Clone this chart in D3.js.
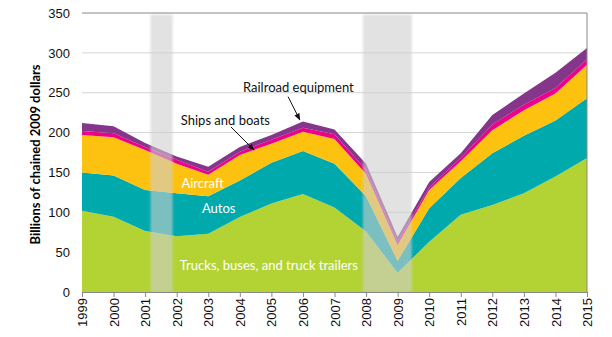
<!DOCTYPE html>
<html>
<head>
<meta charset="utf-8">
<script src="https://cdn.jsdelivr.net/npm/d3@7"></script>
<style>
  body { margin: 0; background: #fff; }
  svg { font-family: Lato, "Open Sans", sans-serif; }
  .grid line { stroke: #d4d4d4; }
  .axis path, .axis line { stroke: #888; }
  .axis text { fill: #111; font-size: 13px; }
</style>
</head>
<body>
<script>
var years = [1999, 2000, 2001, 2002, 2003, 2004, 2005, 2006, 2007, 2008, 2009, 2010, 2011, 2012, 2013, 2014, 2015];
var trucks   = [102, 94.5, 76.5, 70, 73, 94, 111, 123, 106, 76, 24, 63, 97, 109, 124, 145, 168];
var autos    = [48, 51.5, 51.5, 54, 47, 46, 51, 54, 55, 44, 15, 42, 46, 65, 72, 70, 75];
var aircraft = [47, 48, 50, 37, 27, 32, 24, 24, 31, 28, 20, 23, 21, 29, 32, 34, 42];
var ships    = [5, 5, 4, 5, 4, 4, 5, 5, 6, 5, 4, 3, 4, 7, 7, 7, 7];
var railroad = [10, 9, 5, 4, 6, 6, 6, 8, 6, 8, 6, 7, 6, 12, 14, 19, 14];
var yTicks = [0, 50, 100, 150, 200, 250, 300, 350];
var recessions = [[2001.17, 2001.87], [2007.9, 2009.45]];

var keys = ["trucks", "autos", "aircraft", "ships", "railroad"];
var colors = {trucks: "#b3d335", autos: "#00a9ac", aircraft: "#fdc20f", ships: "#ec008c", railroad: "#85358a"};

var margin = {top: 13, right: 25, bottom: 45, left: 82};
var width = 612 - margin.left - margin.right,
    height = 337 - margin.top - margin.bottom;

var table = years.map(function(y, i) {
  return {year: y, trucks: trucks[i], autos: autos[i], aircraft: aircraft[i], ships: ships[i], railroad: railroad[i]};
});

var x = d3.scaleLinear().domain([1999, 2015]).range([0, width]);
var y = d3.scaleLinear().domain([0, 350]).range([height, 0]);

var svg = d3.select("body").append("svg")
    .attr("width", 612)
    .attr("height", 337);

var defs = svg.append("defs");
defs.append("filter").attr("id", "soft")
    .attr("x", "-20%").attr("width", "140%")
  .append("feGaussianBlur").attr("stdDeviation", 1.2);

var g = svg.append("g")
    .attr("transform", "translate(" + margin.left + "," + margin.top + ")");

// gridlines
g.append("g").attr("class", "grid")
  .selectAll("line")
  .data(yTicks.filter(function(d) { return d > 0 && d < 350; }))
  .enter().append("line")
    .attr("x1", 0).attr("x2", width)
    .attr("y1", function(d) { return y(d); })
    .attr("y2", function(d) { return y(d); });

var stack = d3.stack().keys(keys);
var series = stack(table);

var area = d3.area()
    .x(function(d) { return x(d.data.year); })
    .y0(function(d) { return y(d[0]); })
    .y1(function(d) { return y(d[1]); });

g.selectAll(".layer")
  .data(series)
  .enter().append("path")
    .attr("class", "layer")
    .attr("d", area)
    .style("fill", function(d) { return colors[d.key]; });

// recession shading
g.selectAll(".rec")
  .data(recessions)
  .enter().append("rect")
    .attr("class", "rec")
    .attr("x", function(d) { return x(d[0]); })
    .attr("width", function(d) { return x(d[1]) - x(d[0]); })
    .attr("y", y(348))
    .attr("height", y(0) - y(348))
    .attr("filter", "url(#soft)")
    .style("fill", "#cfcfcf")
    .style("opacity", 0.6);

// frame: top and right
g.append("line").attr("x1", 0).attr("x2", width).attr("y1", 0).attr("y2", 0).style("stroke", "#888");
g.append("line").attr("x1", width).attr("x2", width).attr("y1", 0).attr("y2", height).style("stroke", "#888");

var xAxis = d3.axisBottom(x)
    .tickValues(years)
    .tickFormat(d3.format("d"))
    .tickSize(5)
    .tickSizeOuter(0);

var xg = g.append("g")
    .attr("class", "axis")
    .attr("transform", "translate(0," + height + ")")
    .call(xAxis);
xg.selectAll("text")
    .attr("transform", "rotate(-90)")
    .attr("x", -6)
    .attr("y", 0)
    .attr("dy", "0.35em")
    .style("text-anchor", "end");

var yAxis = d3.axisLeft(y)
    .tickValues(yTicks)
    .tickSize(0)
    .tickPadding(12);

var yg = g.append("g").attr("class", "axis").call(yAxis);
yg.select(".domain").remove();

svg.append("text")
    .attr("transform", "translate(40," + (margin.top + height / 2 + 2) + ") rotate(-90)")
    .style("text-anchor", "middle")
    .style("font-size", "13px")
    .style("font-weight", "bold")
    .text("Billions of chained 2009 dollars");

// series labels
var labels = [
  {text: "Aircraft", yr: 2002.15, v: 131, fill: "#fff"},
  {text: "Autos", yr: 2002.8, v: 99, fill: "#fff"},
  {text: "Trucks, buses, and truck trailers", yr: 2002.1, v: 27, fill: "#fff"},
  {text: "Ships and boats", yr: 2002.13, v: 210, fill: "#111"},
  {text: "Railroad equipment", yr: 2004.1, v: 251, fill: "#111"}
];
g.selectAll(".lbl")
  .data(labels)
  .enter().append("text")
    .attr("class", "lbl")
    .attr("x", function(d) { return x(d.yr); })
    .attr("y", function(d) { return y(d.v); })
    .style("font-size", "13px")
    .style("fill", function(d) { return d.fill; })
    .text(function(d) { return d.text; });

defs.append("marker").attr("id", "arr")
    .attr("viewBox", "0 0 10 10").attr("refX", 9).attr("refY", 5)
    .attr("markerWidth", 7).attr("markerHeight", 7)
    .attr("orient", "auto")
  .append("path").attr("d", "M0,1 L10,5 L0,9 Z").style("fill", "#111");

var arrows = [
  {x0: 2003.72, v0: 207, x1: 2004.45, v1: 178},
  {x0: 2005.53, v0: 245, x1: 2005.9, v1: 216}
];
g.selectAll(".arrow")
  .data(arrows)
  .enter().append("line")
    .attr("class", "arrow")
    .attr("x1", function(d) { return x(d.x0); })
    .attr("y1", function(d) { return y(d.v0); })
    .attr("x2", function(d) { return x(d.x1); })
    .attr("y2", function(d) { return y(d.v1); })
    .style("stroke", "#111")
    .style("stroke-width", 1)
    .attr("marker-end", "url(#arr)");
</script>
</body>
</html>
